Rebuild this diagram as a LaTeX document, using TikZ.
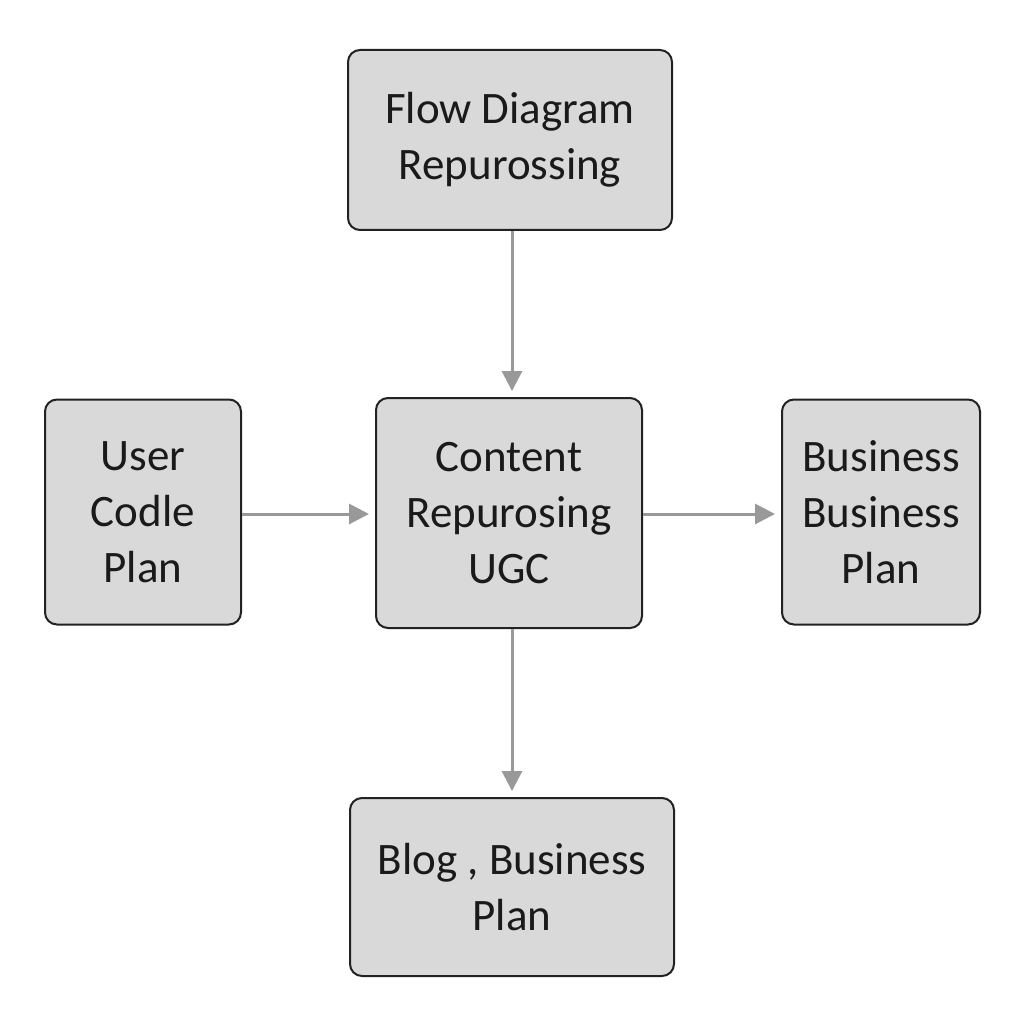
\documentclass[tikz,border=0pt]{standalone}
\usepackage{fontspec}
\setmainfont{Carlito}
\usetikzlibrary{arrows.meta}
\definecolor{boxfill}{HTML}{D9D9D9}
\definecolor{boxline}{HTML}{222222}
\definecolor{arrowgray}{HTML}{999999}
\definecolor{txt}{HTML}{1A1A1A}
\begin{document}
\begin{tikzpicture}[x=1pt,y=-1pt,
  box/.style={draw=boxline, fill=boxfill, line width=2pt, rounded corners=12pt,
    inner sep=0pt, align=center, text=txt,
    font=\fontsize{45}{56}\selectfont},
  conn/.style={draw=arrowgray, line width=3pt,
    -{Triangle[length=20pt,width=20pt]}, shorten >=6pt}
]
\useasboundingbox[fill=white] (0,0) rectangle (1024,1024);
\node[box, minimum width=324pt, minimum height=180pt] (top) at (510,140) {Flow Diagram\\Repurossing};
\node[box, minimum width=266pt, minimum height=230pt] (mid) at (509,513) {Content\\Repurosing\\UGC};
\node[box, minimum width=196pt, minimum height=225pt] (left) at (143,512) {User\\Codle\\Plan};
\node[box, minimum width=198pt, minimum height=225pt] (right) at (881,512) {Business\\Business\\Plan};
\node[box, minimum width=324pt, minimum height=178pt] (bot) at (512,887) {Blog , Business\\Plan};
\draw[conn] (top.south -| 512,0) -- (mid.north -| 512,0);
\draw[conn] (left.east |- 0,514) -- (mid.west |- 0,514);
\draw[conn] (mid.east |- 0,514) -- (right.west |- 0,514);
\draw[conn] (mid.south -| 512,0) -- (bot.north -| 512,0);
\end{tikzpicture}
\end{document}
